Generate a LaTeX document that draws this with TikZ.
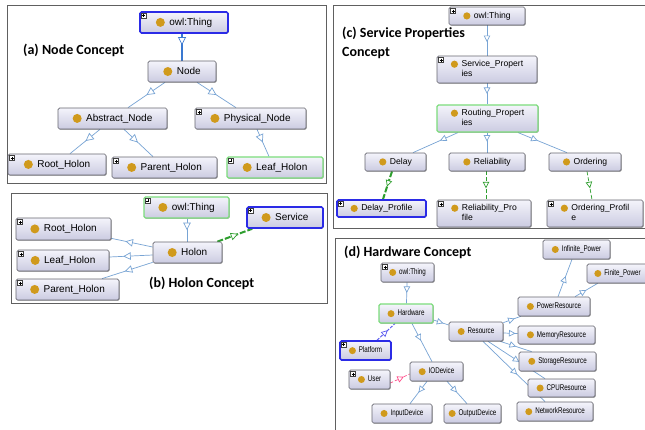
\documentclass[tikz,border=0pt]{standalone}
\usepackage{fontspec}
\setmainfont{Liberation Sans}
\newfontfamily\condfont[FakeStretch=0.75]{Liberation Sans}
\newfontfamily\labfont{Carlito}
\usetikzlibrary{arrows.meta,decorations.markings,shadows,calc}
\pgfdeclarelayer{bg}
\pgfsetlayers{bg,main}
\definecolor{boxtop}{HTML}{F4F4FB}
\definecolor{boxbot}{HTML}{CBCBE1}
\definecolor{boxgray}{HTML}{66666F}
\definecolor{selblue}{HTML}{2B2BE6}
\definecolor{hilgreen}{HTML}{7CDC7C}
\definecolor{edgeblue}{HTML}{78A4D4}
\definecolor{seledge}{HTML}{3A78D0}
\definecolor{dotgold}{HTML}{D09A1C}
\definecolor{greenedge}{HTML}{2E9E2E}
\definecolor{pinkedge}{HTML}{FF4F8B}
\definecolor{purpedge}{HTML}{5A5AF0}
\definecolor{framegray}{HTML}{606060}
\newcommand\dotA{\tikz[baseline=-2.7pt]\fill[dotgold] (0,0) circle[radius=4.5pt];\hspace{4.5pt}}
\newcommand\dotC{\tikz[baseline=-2.3pt]\fill[dotgold] (0,0) circle[radius=3.6pt];\hspace{3.5pt}}
\newcommand\dotD{\tikz[baseline=-2.2pt]\fill[dotgold] (0,0) circle[radius=3.5pt];\hspace{3pt}}
\newcommand\tl[1]{\begin{tabular}[t]{@{}l@{}}#1\end{tabular}}
\newcommand\cn[6][]{\node[cls,#1,minimum width=#4pt,minimum height=#5pt] (#2) at (#3) {#6};}
\newcommand\pls[1]{\draw[plusicon] ([shift={(2pt,-2pt)}]#1.north west) rectangle ++(5,5);
  \draw[line width=0.5pt] ([shift={(3pt,-4.5pt)}]#1.north west) -- ++(3,0) ([shift={(4.5pt,-3pt)}]#1.north west) -- ++(0,3);}
\newcommand\arl{6.5pt}
\tikzset{
  cls/.style={draw=boxgray, line width=0.7pt, rounded corners=1.5pt, top color=boxtop, bottom color=boxbot,
    drop shadow={shadow xshift=0.8pt, shadow yshift=-0.8pt, fill=black, opacity=0.3}, inner sep=0pt},
  sel/.style={draw=selblue, line width=1.6pt},
  hil/.style={draw=hilgreen, line width=1.1pt},
  plusicon/.style={draw=black!75, fill=white, line width=0.4pt},
  lab/.style={font=\labfont\bfseries\fontsize{14}{19}\selectfont, inner sep=0pt},
  frame/.style={draw=framegray, line width=0.8pt},
  isa/.style={color=edgeblue, line width=0.7pt, postaction={decorate, decoration={markings,
    mark=at position #1 with {\arrow{Triangle[fill=white, length=\arl, width=\arl, line width=0.7pt]}}}}},
  isa/.default=0.5,
  selisa/.style={isa=#1, color=seledge, line width=1.8pt},
  gdash/.style={isa=#1, color=greenedge, dash pattern=on 4pt off 2pt},
  gthick/.style={isa=#1, color=greenedge, line width=2pt, dash pattern=on 6pt off 2pt},
  pdash/.style={isa=#1, color=pinkedge, dash pattern=on 3pt off 2pt},
  bdash/.style={isa=#1, color=purpedge, line width=1pt, dash pattern=on 3pt off 1.5pt},
}
\begin{document}
\begin{tikzpicture}[x=1pt,y=-1pt]
\useasboundingbox (0,0) rectangle (645,429);
% ---------- panel (a)
\begin{scope}[font=\fontsize{10}{12}\selectfont]
\cn[sel]{aT}{184,22.5}{88}{21}{\dotA owl:Thing}
\cn{aN}{182,71.5}{68}{21}{\dotA Node}
\cn{aAN}{112.5,118.5}{109}{21}{\dotA Abstract\_Node}
\cn{aPN}{250.5,118.5}{111}{21}{\dotA Physical\_Node}
\cn{aRH}{57,164.5}{98}{21}{\dotA Root\_Holon}
\cn{aPH}{164.5,167.5}{105}{21}{\dotA Parent\_Holon}
\cn[hil]{aLH}{275,167.5}{96}{21}{\dotA Leaf\_Holon}
% ---------- panel (b)
\cn[hil]{bT}{186.5,207.5}{85}{21}{\dotA owl:Thing}
\cn[sel]{bS}{285,217.5}{76}{21}{\dotA Service}
\cn{bRH}{63.5,229}{95}{22}{\dotA Root\_Holon}
\cn{bLH}{63,260.5}{92}{21}{\dotA Leaf\_Holon}
\cn{bPH}{67.5,289.5}{103}{21}{\dotA Parent\_Holon}
\cn{bH}{187.5,252.5}{69}{21}{\dotA Holon}
\end{scope}
% ---------- panel (c)
\begin{scope}[font=\fontsize{8.6}{10}\selectfont]
\cn{cT}{487,16}{76}{18}{\dotC owl:Thing}
\cn{cSP}{487,69.5}{100}{27}{\dotC\tl{Service\_Propert\\ies}}
\cn[hil]{cRP}{487.5,118.5}{101}{27}{\dotC\tl{Routing\_Propert\\ies}}
\cn{cD}{395.5,162}{61}{18}{\dotC Delay}
\cn{cR}{487,162}{76}{18}{\dotC Reliability}
\cn{cO}{585,162}{72}{18}{\dotC Ordering}
\cn[sel]{cDP}{381.5,208.5}{89}{17}{\dotC Delay\_Profile}
\cn{cRF}{484,213.5}{94}{27}{\dotC\tl{Reliability\_Pro\\file}}
\cn{cOP}{595,213.5}{96}{27}{\dotC\tl{Ordering\_Profil\\e}}
\end{scope}
% ---------- panel (d)
\begin{scope}[font=\condfont\fontsize{8.3}{10}\selectfont]
\cn{dT}{407.5,272.5}{53}{19}{\dotD owl:Thing}
\cn[hil]{dHW}{406,313.5}{54}{19}{\dotD Hardware}
\cn[sel]{dPl}{365.5,350.5}{51}{19}{\dotD Platform}
\cn{dU}{369.5,379.5}{41}{19}{\dotD User}
\cn{dIO}{436.5,371.5}{53}{19}{\dotD IODevice}
\cn{dIn}{402,413.5}{60}{19}{\dotD InputDevice}
\cn{dOut}{472.5,413.5}{57}{19}{\dotD OutputDevice}
\cn{dR}{476,331.5}{54}{19}{\dotD Resource}
\cn{dPR}{554,306.5}{72}{19}{\dotD PowerResource}
\cn{dMR}{556.5,335}{77}{18}{\dotD MemoryResource}
\cn{dNR}{555,411.5}{76}{19}{\dotD NetworkResource}
\cn{dCR}{561.5,388}{67}{18}{\dotD CPUResource}
\cn{dSR}{557.5,361.5}{77}{19}{\dotD StorageResource}
\cn{dIP}{576.5,249.5}{67}{19}{\dotD Infinite\_Power}
\cn{dFP}{617.5,273.5}{61}{19}{\dotD Finite\_Power}
\end{scope}
% plus icons
\foreach \n in {aT,aPN,aRH,aPH,aLH,bT,bS,bRH,bLH,bPH,cT,cSP,cDP,cRF,cOP,dT,dPl,dU}{\pls{\n}}
% labels
\node[lab, anchor=west] (la) at (23,50) {(a) Node Concept};
\node[lab, anchor=west] (lb) at (149,283) {(b) Holon Concept};
\node[lab, anchor=west, align=left] (lc) at (342,42.5) {(c) Service Properties\\Concept};
\node[lab, anchor=west] (ld) at (344,252) {(d) Hardware Concept};
% ---------- background: frames and edges
\begin{pgfonlayer}{bg}
\fill[white] (0,0) rectangle (645,429);
\draw[frame] (7,5) rectangle (326,183);
\draw[frame] (11,193) rectangle (327,303);
\draw[frame] (333,5) rectangle (660,228);
\draw[frame] (335,238) rectangle (660,440);
\begin{scope}
\def\arl{8pt}
% (a)
\draw[selisa=0.42] ([xshift=-2pt]aT.south) -- (aN.north);
\draw[isa] ([xshift=-17pt]aN.south) -- ([xshift=15.5pt]aAN.north);
\draw[isa] ([xshift=15pt]aN.south) -- ([xshift=-14.5pt]aPN.north);
\draw[isa=0.48] ([xshift=-12.5pt]aAN.south) -- ([xshift=13pt]aRH.north);
\draw[isa=0.48] ([xshift=11.5pt]aAN.south) -- ([xshift=-11.5pt]aPH.north);
\draw[isa=0.48] ([xshift=6.5pt]aPN.south) -- ([xshift=-6pt]aLH.north);
% (b)
\def\arl{7.5pt}
\draw[isa=0.5] ([xshift=0.5pt]bT.south) -- ([xshift=-0.5pt]bH.north);
\draw[isa=0.66] ([yshift=5.5pt]bH.west) -- ([yshift=2pt]bRH.south east);
\draw[isa=0.68] ([yshift=-2.5pt]bH.west) -- ([yshift=3.5pt]bLH.east);
\draw[isa=0.55] ([yshift=1pt]bH.south west) -- ([xshift=34.5pt]bPH.north);
\draw[gthick=0.6] ([xshift=-5pt]bH.north east) -- ([xshift=6pt]bS.south west);
\end{scope}
% (c)
\draw[isa=0.55] (cT.south) -- (cSP.north);
\draw[isa=0.5] (cSP.south) -- ([xshift=-0.5pt]cRP.north);
\draw[isa=0.4] ([xshift=-29.5pt]cRP.south) -- ([xshift=17.5pt]cD.north);
\draw[isa=0.45] ([xshift=-0.5pt]cRP.south) -- (cR.north);
\draw[isa=0.4] ([xshift=30.5pt]cRP.south) -- ([xshift=-18pt]cO.north);
\draw[gthick=0.55] ([xshift=-3.5pt]cD.south) -- ([xshift=1.5pt]cDP.north);
\draw[gdash=0.6] ([xshift=-1pt]cR.south) -- ([xshift=2pt]cRF.north);
\draw[gdash=0.6] ([xshift=2pt]cO.south) -- ([xshift=-3pt]cOP.north);
% (d)
\draw[isa=0.5] ([xshift=-0.5pt]dT.south) -- ([xshift=0.5pt]dHW.north);
\draw[isa=0.65] ([yshift=-6.5pt]dHW.east) -- ([yshift=6.5pt]dR.west);
\draw[isa=0.45] ([xshift=6pt]dHW.south) -- ([xshift=-4.5pt]dIO.north);
\draw[bdash=0.6] ([xshift=11.5pt]dPl.north) -- ([xshift=-11pt]dHW.south);
\draw[pdash=0.7] ([yshift=-3.5pt]dU.east) -- ([yshift=-2.5pt]dIO.west);
\draw[isa=0.5] ([xshift=-9.5pt]dIO.south) -- ([xshift=8pt]dIn.north);
\draw[isa=0.5] ([xshift=10.5pt]dIO.south) -- ([xshift=-5.5pt]dOut.north);
\draw[isa=0.65] ([yshift=-1pt]dR.north east) -- ([xshift=3pt]dPR.south west);
\draw[isa=0.85] ([yshift=-1.5pt]dR.east) -- ([yshift=1.5pt]dMR.west);
\draw[isa=0.5] ([xshift=-3pt]dR.south east) -- ([xshift=13pt]dSR.north west);
\draw[isa=0.55] ([xshift=12pt]dR.south) -- ([xshift=-16.5pt]dCR.north);
\draw[isa=0.55] ([xshift=7pt]dR.south) -- ([xshift=-10pt]dNR.north);
\draw[isa=0.55] ([xshift=4pt]dPR.north) -- ([xshift=-4.5pt]dIP.south);
\draw[isa=0.5] ([xshift=21pt]dPR.north) -- ([xshift=11pt]dFP.south west);
\end{pgfonlayer}
\end{tikzpicture}
\end{document}
